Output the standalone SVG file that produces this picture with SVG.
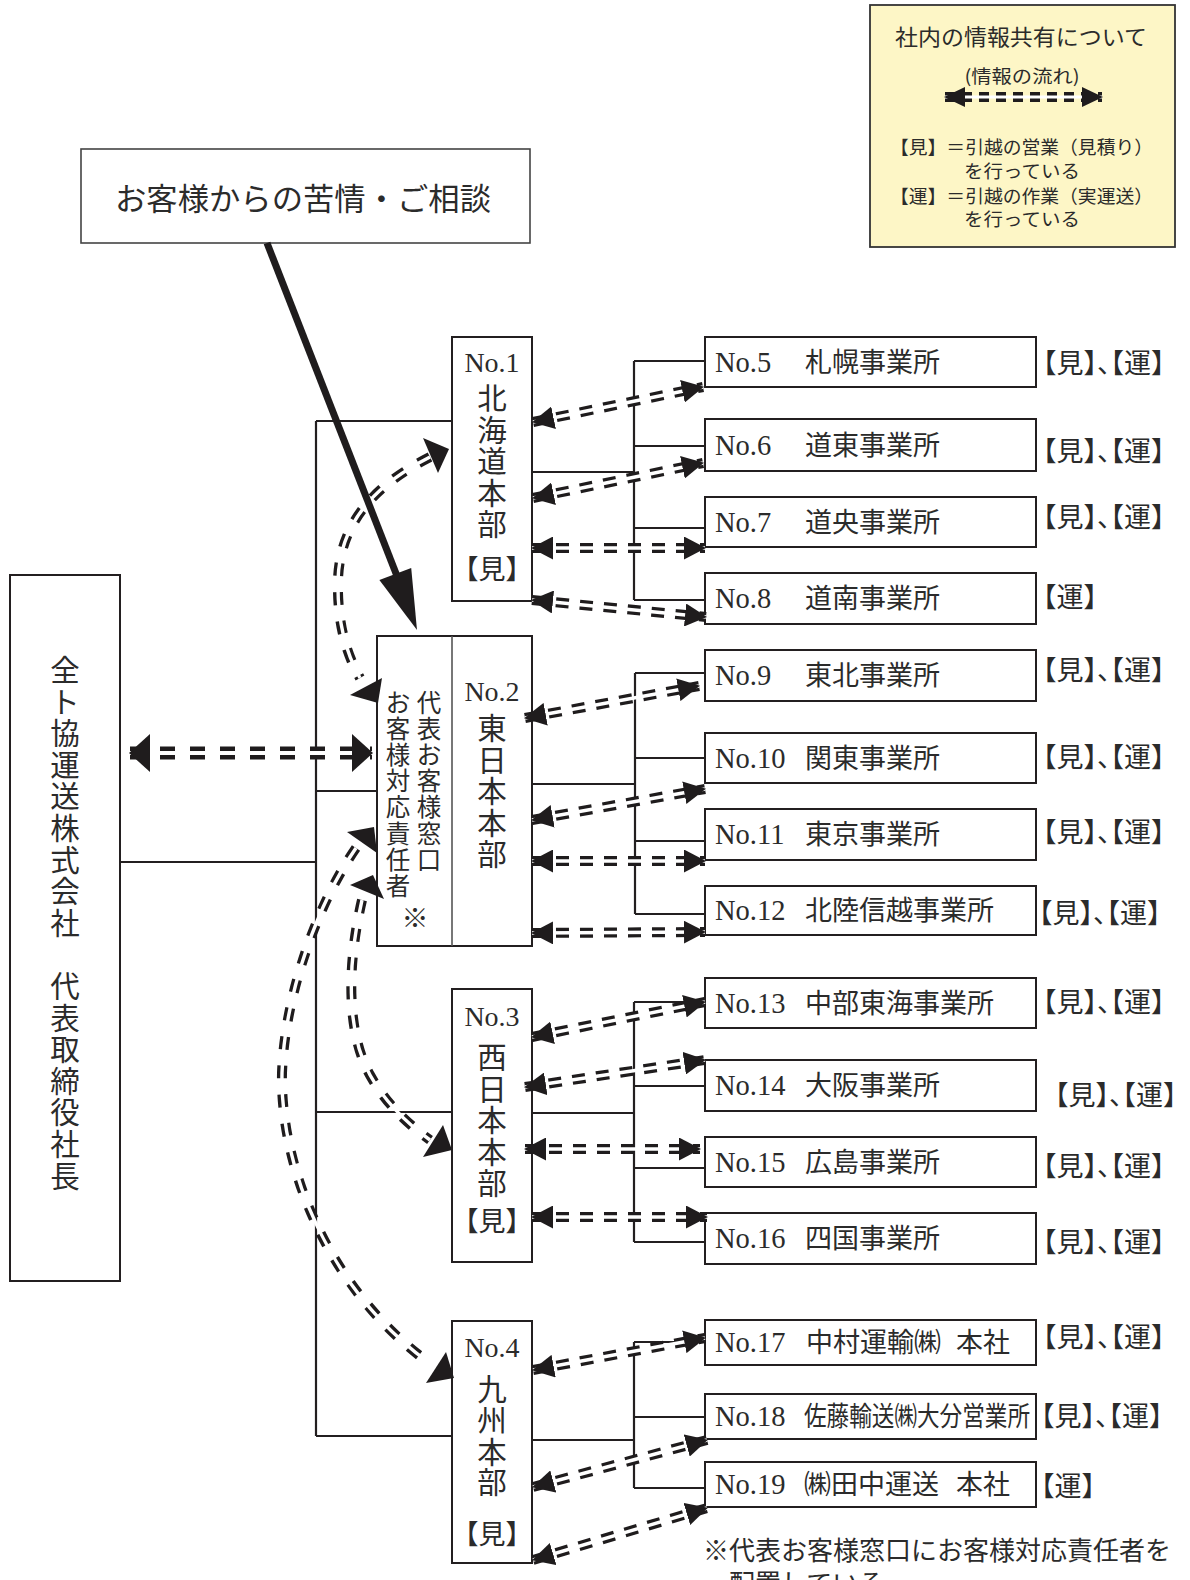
<svg xmlns="http://www.w3.org/2000/svg" width="1190" height="1580" viewBox="0 0 1190 1580">
<defs>
<style>
.bx{fill:#fff;stroke:#231f20;stroke-width:2}
.ln{fill:none;stroke:#231f20;stroke-width:2.2}
.jp{font-family:"Noto Sans CJK JP","Noto Sans CJK SC",sans-serif;fill:#2b2b2b}
.of{font-family:"Liberation Serif","Noto Sans CJK JP",serif;font-size:28.5px;fill:#2b2b2b}
.oj{font-size:27px}
.num{font-family:"Liberation Serif",serif;font-size:28px;fill:#2b2b2b;text-anchor:middle}
.vt{font-family:"Noto Sans CJK JP",sans-serif;font-size:29.5px;fill:#2b2b2b;text-anchor:middle}
.tag{font-family:"Noto Sans CJK JP",sans-serif;font-size:27px;fill:#2b2b2b;font-feature-settings:"halt"}
.db{fill:none;stroke:#1f1c1d;stroke-width:10;stroke-dasharray:13 11}
.dw{fill:none;stroke:#fff;stroke-width:3.4;marker-start:url(#ah);marker-end:url(#ah)}
.cb{fill:none;stroke:#1f1c1d;stroke-width:10;stroke-dasharray:13 16}
.cw{fill:none;stroke:#fff;stroke-width:3.4}
.hd{fill:#1f1c1d}
</style>
<marker id="ah" viewBox="0 0 22 23" refX="21" refY="11.5" markerWidth="22" markerHeight="23" markerUnits="userSpaceOnUse" orient="auto-start-reverse"><path d="M0,0 L22,11.5 L0,23 Z" fill="#1f1c1d"/></marker>
<marker id="ahB" viewBox="0 0 21 38" refX="20" refY="19" markerWidth="21" markerHeight="38" markerUnits="userSpaceOnUse" orient="auto-start-reverse"><path d="M0,0 L21,19 L0,38 Z" fill="#1f1c1d"/></marker>
<marker id="ahL" viewBox="0 0 21 20" refX="20" refY="10" markerWidth="21" markerHeight="20" markerUnits="userSpaceOnUse" orient="auto-start-reverse"><path d="M0,0 L21,10 L0,20 Z" fill="#1f1c1d"/></marker>
</defs>
<rect width="1190" height="1580" fill="#fff"/>

<!-- legend -->
<g id="legend">
<rect x="870" y="5" width="305" height="242" fill="#fdf6c6" stroke="#333" stroke-width="1.8"/>
<text class="jp" x="1021" y="45" font-size="22" text-anchor="middle" textLength="252" lengthAdjust="spacingAndGlyphs">社内の情報共有について</text>
<text class="jp" x="1022" y="83" font-size="18" text-anchor="middle" textLength="115" lengthAdjust="spacingAndGlyphs">(情報の流れ)</text>
<path d="M945,97 H1102" fill="none" stroke="#1f1c1d" stroke-width="10" stroke-dasharray="10 7"/>
<path d="M945,97 H1102" fill="none" stroke="#fff" stroke-width="3" marker-start="url(#ahL)" marker-end="url(#ahL)"/>
<text class="jp" x="890" y="154" font-size="18.5" textLength="263" lengthAdjust="spacingAndGlyphs">【見】＝引越の営業（見積り）</text>
<text class="jp" x="964" y="178" font-size="18.5" textLength="116" lengthAdjust="spacingAndGlyphs">を行っている</text>
<text class="jp" x="890" y="203" font-size="18.5" textLength="263" lengthAdjust="spacingAndGlyphs">【運】＝引越の作業（実運送）</text>
<text class="jp" x="964" y="226" font-size="18.5" textLength="116" lengthAdjust="spacingAndGlyphs">を行っている</text>
</g>

<!-- complaint -->
<g id="complaint">
<rect x="81" y="149" width="449" height="94" fill="#fff" stroke="#444" stroke-width="1.6"/>
<text class="jp" x="303" y="210" font-size="31" text-anchor="middle" textLength="376" lengthAdjust="spacingAndGlyphs">お客様からの苦情・ご相談</text>
</g>

<!-- president -->
<g id="president">
<rect class="bx" x="10" y="575" width="110" height="706"/>
<text class="vt" x="65 65 65 65 65 65 65 65 65" y="681 712.6 744.2 775.8 807.4 839 870.6 902.2 933.8">全ト協運送株式会社</text>
<text class="vt" x="65 65 65 65 65 65 65" y="997 1028.6 1060.2 1091.8 1123.4 1155 1186.6">代表取締役社長</text>
</g>

<!-- HQ nodes -->
<g id="hq1">
<rect class="bx" x="452" y="337" width="80" height="264"/>
<text class="num" x="492" y="372">No.1</text>
<text class="vt" x="492 492 492 492 492" y="409 440.6 472.2 503.8 535.4">北海道本部</text>
<text class="tag" x="492" y="579" font-size="25" text-anchor="middle">【見】</text>
</g>
<g id="hq2">
<rect class="bx" x="377" y="636" width="155" height="310"/>
<line x1="452" y1="636" x2="452" y2="946" stroke="#555" stroke-width="1.6"/>
<text class="num" x="492" y="701">No.2</text>
<text class="vt" x="492 492 492 492 492" y="739 770.5 802 833.5 865">東日本本部</text>
<text class="jp" font-size="24.5" text-anchor="middle" x="429 429 429 429 429 429 429" y="711.5 737.7 763.9 790.1 816.3 842.5 868.7">代表お客様窓口</text>
<text class="jp" font-size="24.5" text-anchor="middle" x="398 398 398 398 398 398 398 398" y="711.5 737.7 763.9 790.1 816.3 842.5 868.7 894.9">お客様対応責任者</text>
<text class="jp" font-size="27" text-anchor="middle" x="415" y="928">※</text>
</g>
<g id="hq3">
<rect class="bx" x="452" y="989" width="80" height="273"/>
<text class="num" x="492" y="1026">No.3</text>
<text class="vt" x="492 492 492 492 492" y="1068 1099.5 1131 1162.5 1194">西日本本部</text>
<text class="tag" x="492" y="1231" font-size="25" text-anchor="middle">【見】</text>
</g>
<g id="hq4">
<rect class="bx" x="452" y="1321" width="80" height="242"/>
<text class="num" x="492" y="1357">No.4</text>
<text class="vt" x="492 492 492 492" y="1400 1431 1463 1493">九州本部</text>
<text class="tag" x="492" y="1544" font-size="25" text-anchor="middle">【見】</text>
</g>

<!-- offices -->
<g id="o5"><rect class="bx" x="705" y="337" width="331" height="50"/><text class="of" x="715" y="372">No.5<tspan class="oj" x="805">札幌事業所</tspan></text><text class="tag" x="1043" y="373">【見】、【運】</text></g>
<g id="o6"><rect class="bx" x="705" y="419" width="331" height="52"/><text class="of" x="715" y="455">No.6<tspan class="oj" x="805">道東事業所</tspan></text><text class="tag" x="1043" y="461">【見】、【運】</text></g>
<g id="o7"><rect class="bx" x="705" y="497" width="331" height="50"/><text class="of" x="715" y="532">No.7<tspan class="oj" x="805">道央事業所</tspan></text><text class="tag" x="1043" y="527">【見】、【運】</text></g>
<g id="o8"><rect class="bx" x="705" y="573" width="331" height="51"/><text class="of" x="715" y="608">No.8<tspan class="oj" x="805">道南事業所</tspan></text><text class="tag" x="1043" y="607">【運】</text></g>
<g id="o9"><rect class="bx" x="705" y="650" width="331" height="51"/><text class="of" x="715" y="685">No.9<tspan class="oj" x="805">東北事業所</tspan></text><text class="tag" x="1043" y="680">【見】、【運】</text></g>
<g id="o10"><rect class="bx" x="705" y="733" width="331" height="50"/><text class="of" x="715" y="768">No.10<tspan class="oj" x="805">関東事業所</tspan></text><text class="tag" x="1043" y="767">【見】、【運】</text></g>
<g id="o11"><rect class="bx" x="705" y="809" width="331" height="51"/><text class="of" x="715" y="844">No.11<tspan class="oj" x="805">東京事業所</tspan></text><text class="tag" x="1043" y="842">【見】、【運】</text></g>
<g id="o12"><rect class="bx" x="705" y="886" width="331" height="49"/><text class="of" x="715" y="920">No.12<tspan class="oj" x="805">北陸信越事業所</tspan></text><text class="tag" x="1039" y="923">【見】、【運】</text></g>
<g id="o13"><rect class="bx" x="705" y="978" width="331" height="50"/><text class="of" x="715" y="1013">No.13<tspan class="oj" x="805">中部東海事業所</tspan></text><text class="tag" x="1043" y="1012">【見】、【運】</text></g>
<g id="o14"><rect class="bx" x="705" y="1060" width="331" height="51"/><text class="of" x="715" y="1095">No.14<tspan class="oj" x="805">大阪事業所</tspan></text><text class="tag" x="1055" y="1105">【見】、【運】</text></g>
<g id="o15"><rect class="bx" x="705" y="1137" width="331" height="50"/><text class="of" x="715" y="1172">No.15<tspan class="oj" x="805">広島事業所</tspan></text><text class="tag" x="1043" y="1176">【見】、【運】</text></g>
<g id="o16"><rect class="bx" x="705" y="1213" width="331" height="51"/><text class="of" x="715" y="1248">No.16<tspan class="oj" x="805">四国事業所</tspan></text><text class="tag" x="1043" y="1252">【見】、【運】</text></g>
<g id="o17"><rect class="bx" x="705" y="1320" width="331" height="45"/><text class="of" x="715" y="1352">No.17<tspan class="oj" x="806">中村運輸㈱</tspan><tspan class="oj" x="956">本社</tspan></text><text class="tag" x="1043" y="1347">【見】、【運】</text></g>
<g id="o18"><rect class="bx" x="705" y="1394" width="331" height="45"/><text class="of" x="715" y="1426">No.18<tspan class="oj" x="804" textLength="226" lengthAdjust="spacingAndGlyphs">佐藤輸送㈱大分営業所</tspan></text><text class="tag" x="1041" y="1426">【見】、【運】</text></g>
<g id="o19"><rect class="bx" x="705" y="1462" width="331" height="45"/><text class="of" x="715" y="1494">No.19<tspan class="oj" x="804">㈱田中運送</tspan><tspan class="oj" x="956">本社</tspan></text><text class="tag" x="1041" y="1496">【運】</text></g>

<!-- note -->
<g id="note">
<text class="jp" x="703" y="1560" font-size="26">※代表お客様窓口にお客様対応責任者を</text>
<text class="jp" x="729" y="1593" font-size="26">配置している</text>
</g>

<!-- connectors -->
<g id="connectors">
<g id="tree">
<path class="ln" d="M120,862 H316 M316,421 V1436 M316,421 H452 M316,791 H377 M316,1112 H452 M316,1436 H452"/>
<path class="ln" d="M532,472 H634 M634,361 V600 M634,361 H705 M634,446 H705 M634,528 H705 M634,600 H705"/>
<path class="ln" d="M532,784 H635 M635,673 V914 M635,673 H705 M635,758 H705 M635,841 H705 M635,914 H705"/>
<path class="ln" d="M532,1113 H634 M634,1002 V1242 M634,1002 H705 M634,1086 H705 M634,1168 H705 M634,1242 H705"/>
<path class="ln" d="M532,1440 H634 M634,1342 V1488 M634,1342 H705 M634,1417 H705 M634,1488 H705"/>
</g>

<g id="flows">
<path class="db" d="M533,422 L703,387"/><path class="dw" d="M533,422 L703,387"/>
<path class="db" d="M533,498 L703,463"/><path class="dw" d="M533,498 L703,463"/>
<path class="db" d="M532,548 L705,548"/><path class="dw" d="M532,548 L705,548"/>
<path class="db" d="M532,600 L706,617"/><path class="dw" d="M532,600 L706,617"/>
<path class="db" d="M525,718 L699,686"/><path class="dw" d="M525,718 L699,686"/>
<path class="db" d="M532,820 L705,789"/><path class="dw" d="M532,820 L705,789"/>
<path class="db" d="M532,861 L705,861"/><path class="dw" d="M532,861 L705,861"/>
<path class="db" d="M532,933 L705,932"/><path class="dw" d="M532,933 L705,932"/>
<path class="db" d="M532,1037 L705,1002"/><path class="dw" d="M532,1037 L705,1002"/>
<path class="db" d="M525,1087 L705,1060"/><path class="dw" d="M525,1087 L705,1060"/>
<path class="db" d="M525,1149 L700,1149"/><path class="dw" d="M525,1149 L700,1149"/>
<path class="db" d="M532,1217 L707,1217"/><path class="dw" d="M532,1217 L707,1217"/>
<path class="db" d="M533,1370 L705,1338"/><path class="dw" d="M533,1370 L705,1338"/>
<path class="db" d="M533,1487 L707,1440"/><path class="dw" d="M533,1487 L707,1440"/>
<path class="db" d="M533,1560 L707,1508"/><path class="dw" d="M533,1560 L707,1508"/>

<path d="M130,753 H372" fill="none" stroke="#1f1c1d" stroke-width="13" stroke-dasharray="15 15"/>
<path d="M130,753 H372" fill="none" stroke="#fff" stroke-width="4" marker-start="url(#ahB)" marker-end="url(#ahB)"/>

<path class="cb" d="M430,457 C385,480 340,515 338,580 C337,625 347,655 360,678"/>
<path class="cw" d="M430,457 C385,480 340,515 338,580 C337,625 347,655 360,678"/>
<polygon class="hd" points="449,449 423,438 438,473"/>
<polygon class="hd" points="350,695 382,678 378,703"/>

<path class="cb" d="M362,900 C348,960 345,1030 370,1075 C385,1102 405,1122 430,1140"/>
<path class="cw" d="M362,900 C348,960 345,1030 370,1075 C385,1102 405,1122 430,1140"/>
<polygon class="hd" points="373,875 350,885 384,899"/>
<polygon class="hd" points="452,1150 423,1157 443,1125"/>

<path class="cb" d="M356,848 C320,900 285,990 282,1073 C280,1170 330,1290 428,1362"/>
<path class="cw" d="M356,848 C320,900 285,990 282,1073 C280,1170 330,1290 428,1362"/>
<polygon class="hd" points="374,827 347,832 377,853"/>
<polygon class="hd" points="454,1378 426,1383 446,1352"/>

<line x1="267" y1="243" x2="397" y2="576" stroke="#1f1c1d" stroke-width="7"/>
<polygon class="hd" points="417,630 411.2,567.9 379.4,580.1"/>
</g>
</g>
</svg>
